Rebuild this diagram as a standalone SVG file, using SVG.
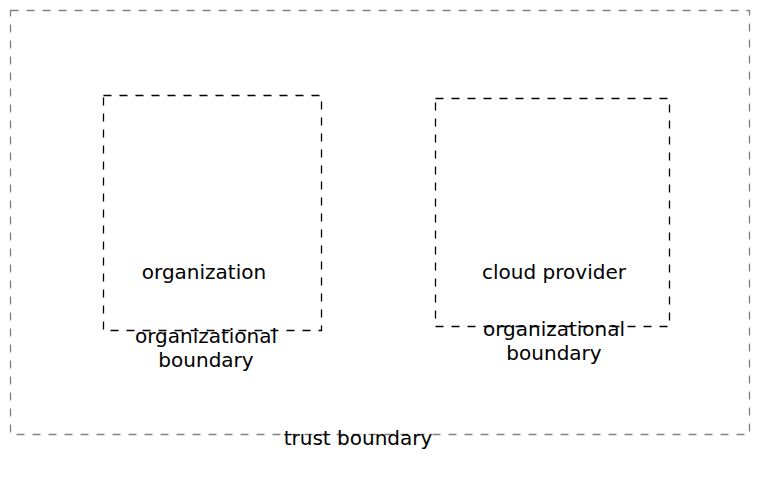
<svg xmlns="http://www.w3.org/2000/svg" width="759" height="504" viewBox="0 0 759 504">
<style>
.bd{fill:none;stroke-width:1.3;stroke-dasharray:8,8}
.inner{stroke:#000}
.outer{stroke:#808080}
text{font-family:"DejaVu Sans",sans-serif;font-size:20px;fill:#000;text-anchor:middle}
</style>
<rect width="759" height="504" fill="#fff"/>
<g id="trust-boundary">
<rect class="bd outer" x="10.5" y="10.5" width="739" height="424"/>
<text x="358" y="445">trust boundary</text>
</g>
<g id="org-boundary">
<rect class="bd inner" x="103.5" y="95.5" width="218" height="235"/>
<text x="206" y="343">organizational</text>
<text x="206" y="367">boundary</text>
</g>
<g id="organization">
<text x="204" y="279">organization</text>
</g>
<g id="cloud-boundary">
<rect class="bd inner" x="435.5" y="98.5" width="234" height="228"/>
<text x="554" y="336">organizational</text>
<text x="554" y="360">boundary</text>
</g>
<g id="cloud-provider">
<text x="554" y="279">cloud provider</text>
</g>
<g id="connectors"></g>
</svg>
